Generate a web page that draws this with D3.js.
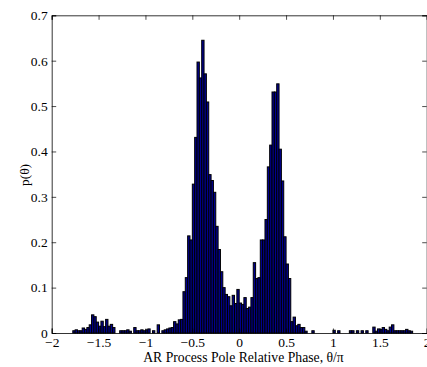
<!DOCTYPE html>
<html lang="en">
<head>
    <meta charset="UTF-8">
    <title>AR Process Pole Relative Phase</title>
    <style>
        body { margin: 0; background: #fff; }
        svg { display: block; }
        .bar { fill: #00008f; stroke: #000; stroke-width: 1; }
        text { font-family: "Liberation Serif", "Times New Roman", serif; fill: #000; }
        .axis path, .axis line { stroke: #000; }
    </style>
</head>
<body>
    <script src="https://d3js.org/d3.v7.min.js"></script>
    <script>
        // histogram: left bin edges (theta/pi) and density values
        const binWidth = 0.025;
        const binEdges = [
            -1.775, -1.75, -1.725, -1.7, -1.675, -1.65, -1.625, -1.6, -1.575, -1.55,
            -1.525, -1.5, -1.475, -1.45, -1.425, -1.4, -1.375, -1.35, -1.325, -1.3,
            -1.275, -1.25, -1.225, -1.2, -1.175, -1.15, -1.125, -1.1, -1.075, -1.05,
            -1.025, -1.0, -0.975, -0.95, -0.925, -0.9, -0.875, -0.85, -0.825, -0.8,
            -0.775, -0.75, -0.725, -0.7, -0.675, -0.65, -0.625, -0.6, -0.575, -0.55,
            -0.525, -0.5, -0.475, -0.45, -0.425, -0.4, -0.375, -0.35, -0.325, -0.3,
            -0.275, -0.25, -0.225, -0.2, -0.175, -0.15, -0.125, -0.1, -0.075, -0.05,
            -0.025, 0, 0.025, 0.05, 0.075, 0.1, 0.125, 0.15, 0.175, 0.2,
            0.225, 0.25, 0.275, 0.3, 0.325, 0.35, 0.375, 0.4, 0.425, 0.45,
            0.475, 0.5, 0.525, 0.55, 0.575, 0.6, 0.625, 0.65, 0.675, 0.7,
            0.725, 0.75, 0.775, 0.8, 0.825, 0.85, 0.875, 0.9, 0.925, 0.95,
            0.975, 1.0, 1.025, 1.05, 1.075, 1.1, 1.125, 1.15, 1.175, 1.2,
            1.225, 1.25, 1.275, 1.3, 1.325, 1.35, 1.375, 1.4, 1.425, 1.45,
            1.475, 1.5, 1.525, 1.55, 1.575, 1.6, 1.625, 1.65, 1.675, 1.7,
            1.725, 1.75, 1.775, 1.8, 1.825
        ];
        const density = [
            0.005, 0.007, 0.005, 0.005, 0.011, 0.008, 0.012, 0.018, 0.040, 0.036,
            0.024, 0.015, 0.026, 0.014, 0.030, 0.015, 0.019, 0.012, 0, 0,
            0.005, 0.005, 0.005, 0.007, 0.004, 0, 0.012, 0.005, 0.005, 0.007,
            0.005, 0.007, 0.009, 0, 0.005, 0, 0.018, 0, 0.005, 0.007,
            0.009, 0.011, 0.012, 0.025, 0.020, 0.029, 0.030, 0.091, 0.122, 0.214,
            0.205, 0.328, 0.431, 0.597, 0.562, 0.645, 0.571, 0.509, 0.349, 0.336,
            0.310, 0.235, 0.184, 0.135, 0.100, 0.085, 0.080, 0.060, 0.083, 0.065,
            0.096, 0.066, 0.063, 0.078, 0.054, 0.057, 0.078, 0.155, 0.120, 0.122,
            0.205, 0.205, 0.250, 0.366, 0.414, 0.531, 0.531, 0.549, 0.405, 0.335,
            0.212, 0.152, 0.120, 0.025, 0.035, 0.016, 0.019, 0.012, 0.012, 0.004,
            0, 0, 0.005, 0, 0, 0, 0, 0, 0, 0,
            0, 0.006, 0, 0.005, 0, 0, 0, 0, 0.005, 0.005,
            0, 0.005, 0, 0.005, 0, 0.005, 0, 0, 0.013, 0.004,
            0.009, 0.008, 0.012, 0.008, 0.005, 0.013, 0.018, 0.005, 0.005, 0.005,
            0.005, 0.005, 0.008, 0.005, 0.004
        ];
        const xTicks = [-2, -1.5, -1, -0.5, 0, 0.5, 1, 1.5, 2];
        const yTicks = [0, 0.1, 0.2, 0.3, 0.4, 0.5, 0.6, 0.7];

        const width = 427, height = 367;
        const plotLeft = 51.7, plotRight = 426.7, plotTop = 15.3, plotBottom = 333;

        const svg = d3.select("body").append("svg")
            .attr("width", width)
            .attr("height", height);

        const x = d3.scaleLinear().domain([-2, 2]).range([plotLeft, plotRight]);
        const y = d3.scaleLinear().domain([0, 0.7]).range([plotBottom, plotTop]);

        const fmt = d => d === 0 ? "0" : String(d).replace("-", "\u2212");

        // bars
        svg.append("g").selectAll("rect")
            .data(binEdges)
            .enter()
            .append("rect")
            .attr("class", "bar")
            .attr("x", d => x(d))
            .attr("width", d => x(d + binWidth) - x(d))
            .attr("y", (d, i) => y(density[i]))
            .attr("height", (d, i) => y(0) - y(density[i]));

        // axes with inward ticks, box on
        const tickLen = 4.5;
        const xb = svg.append("g").attr("class", "axis")
            .attr("transform", `translate(0,${plotBottom})`)
            .call(d3.axisBottom(x).tickValues(xTicks).tickSize(-tickLen).tickPadding(4).tickFormat(fmt));
        const xt = svg.append("g").attr("class", "axis")
            .attr("transform", `translate(0,${plotTop})`)
            .call(d3.axisTop(x).tickValues(xTicks).tickSize(-tickLen).tickFormat(""));
        const yl = svg.append("g").attr("class", "axis")
            .attr("transform", `translate(${plotLeft},0)`)
            .call(d3.axisLeft(y).tickValues(yTicks).tickSize(-tickLen).tickPadding(4).tickFormat(fmt));
        const yr = svg.append("g").attr("class", "axis")
            .attr("transform", `translate(${plotRight},0)`)
            .call(d3.axisRight(y).tickValues(yTicks).tickSize(-tickLen).tickFormat(""));

        [xb, xt, yl, yr].forEach(g => {
            g.select(".domain").attr("stroke-width", 0.8);
            g.selectAll(".tick line").attr("stroke-width", 0.7);
            g.selectAll("text")
                .style("font-family", "'Liberation Serif', serif")
                .style("font-size", "13.5px");
        });

        // axis labels
        svg.append("text")
            .attr("x", 243.5)
            .attr("y", 362)
            .attr("text-anchor", "middle")
            .style("font-size", "13.7px")
            .text("AR Process Pole Relative Phase, \u03b8/\u03c0");

        svg.append("text")
            .attr("transform", `translate(29,${175}) rotate(-90)`)
            .attr("text-anchor", "middle")
            .style("font-size", "13.5px")
            .text("p(\u03b8)");
    </script>
</body>
</html>
